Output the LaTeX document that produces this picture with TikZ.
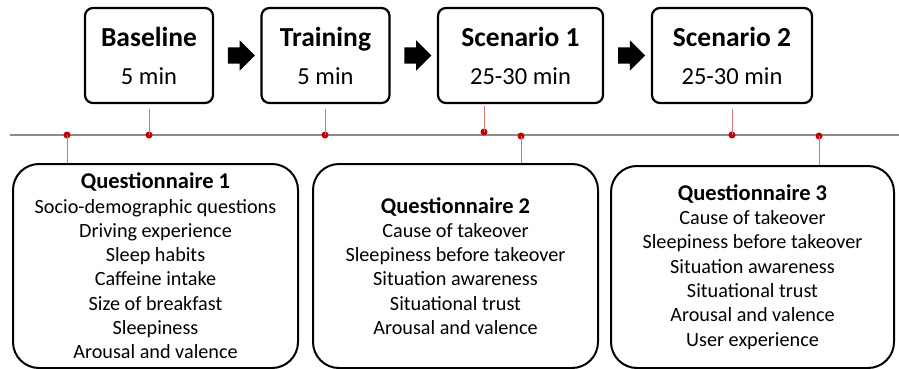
\documentclass[tikz,border=0pt]{standalone}
\usepackage{fontspec}
\setmainfont{Carlito}
\usetikzlibrary{positioning, calc, shapes.arrows}
\definecolor{dotRed}{HTML}{C00000}
\definecolor{lineGray}{HTML}{8C8C8C}

\begin{document}
\begin{tikzpicture}[x=1pt, y=-1pt,
  phase/.style={draw, line width=2.2pt, rounded corners=8pt, minimum width=128pt, minimum height=95pt,
                align=center, inner sep=0pt, font=\fontsize{24.5}{38}\selectfont},
  quest/.style={draw, line width=2pt, rounded corners=26pt, minimum height=204pt, anchor=north,
                align=center, inner sep=0pt, font=\fontsize{20.2}{24.3}\selectfont},
  stepArrow/.style={single arrow, fill=black, inner sep=8pt, minimum height=27pt,
                    single arrow head extend=7pt},
  tdot/.style={circle, fill=dotRed, inner sep=0pt, minimum size=7pt},
  tick/.style={dotRed!55, line width=0.7pt},
]
  \useasboundingbox (0,0) rectangle (899,369);
  % phases
  \node[phase] (base)  at (149,55.5) {{\bfseries\fontsize{27.5}{38}\selectfont Baseline}\\5 min};
  \node[phase] (train) at (325.5,55.5) {{\bfseries\fontsize{27.5}{38}\selectfont Training}\\5 min};
  \node[phase, minimum width=165pt] (scen1) at (520.5,55.5) {{\bfseries\fontsize{27.5}{38}\selectfont Scenario 1}\\25-30 min};
  \node[phase, minimum width=160pt] (scen2) at (732,55.5) {{\bfseries\fontsize{27.5}{38}\selectfont Scenario 2}\\25-30 min};
  \foreach \a/\b/\n in {base/train/1, train/scen1/2, scen1/scen2/3}{
    \node[stepArrow] (arr\n) at ($(\a.east)!0.5!(\b.west)$) {};}
  % timeline
  \coordinate (tl0) at (10,135);
  \coordinate (tl1) at (899,135);
  \draw[lineGray, line width=1.2pt] (tl0) -- (tl1);
  % questionnaires
  \node[quest, minimum width=285pt] (q1) at (155.5,163) {{\bfseries\fontsize{22.5}{24.3}\selectfont Questionnaire 1}\\
    Socio-demographic questions\\Driving experience\\Sleep habits\\Caffeine intake\\Size of breakfast\\Sleepiness\\Arousal and valence};
  \node[quest, minimum width=285pt] (q2) at (455.5,163) {{\bfseries\fontsize{22.5}{24.3}\selectfont Questionnaire 2}\\
    Cause of takeover\\Sleepiness before takeover\\Situation awareness\\Situational trust\\Arousal and valence};
  \node[quest, minimum width=283pt, minimum height=202pt] (q3) at (752.5,165) {{\bfseries\fontsize{22.5}{24.3}\selectfont Questionnaire 3}\\
    Cause of takeover\\Sleepiness before takeover\\Situation awareness\\Situational trust\\Arousal and valence\\User experience};
  % dots on the timeline
  \node[tdot] (d1) at (67,135) {};
  \node[tdot] (d2) at (149,135) {};
  \node[tdot] (d3) at (325,135) {};
  \node[tdot] (d4) at (484,132) {};
  \node[tdot] (d5) at (521,136) {};
  \node[tdot] (d6) at (732,135) {};
  \node[tdot] (d7) at (819,136) {};
  \coordinate (u2) at (149,109);
  \coordinate (u3) at (325,109);
  \coordinate (u4) at (484,106);
  \coordinate (u6) at (732,109);
  \foreach \n in {2,3,4,6}{
    \draw[tick] (d\n.center) -- (u\n);}
  \draw[tick] (d1.center) -- (d1 |- q1.north);
  \draw[tick] (d5.center) -- (d5 |- q2.north);
  \draw[tick] (d7.center) -- (d7 |- q3.north);
\end{tikzpicture}
\end{document}
